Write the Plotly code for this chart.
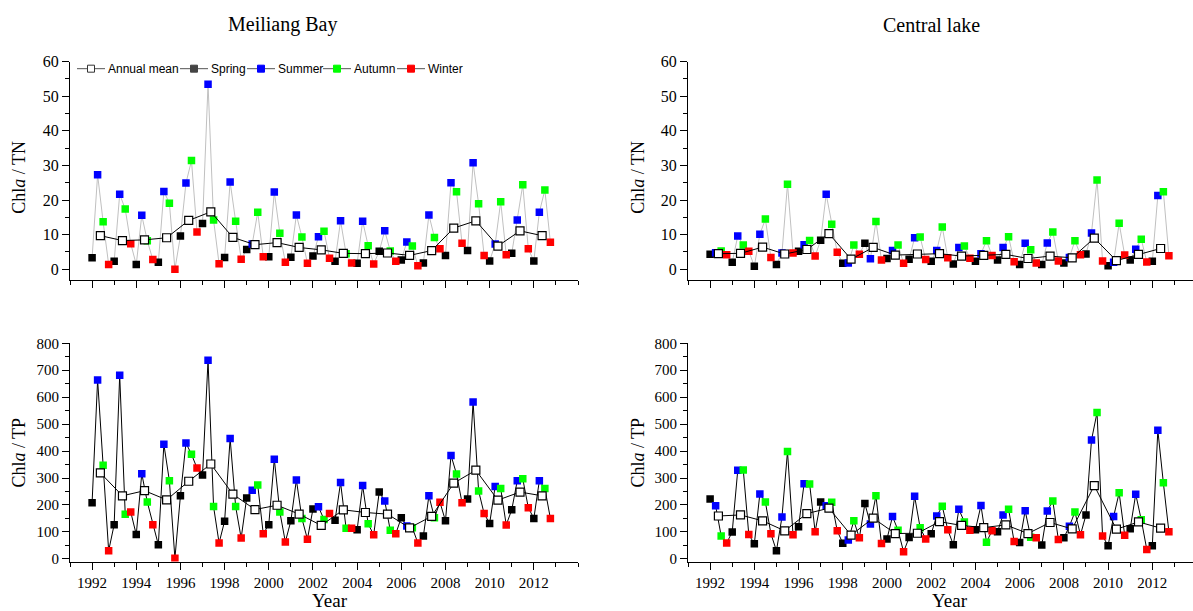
import plotly.graph_objects as go

years = list(range(1992, 2013))
season_names = ["Spring", "Summer", "Autumn", "Winter"]
season_colors = ["#000000", "#0000ff", "#00ff00", "#ff0000"]
season_offsets = [0.0, 0.25, 0.5, 0.75]
mean_offset = 0.375
tick_years = list(range(1992, 2013, 2))

# Meiliang Bay Chla/TN
ml_tn_spring = [3.3, 2.3, 1.35, 2.0, 9.6, 13.2, 3.4, 5.7, 3.6, 3.5, 3.8, 2.3, 1.7, 5.2, 2.7, 1.8, 4.0, 5.4, 2.4, 4.6, 2.4]
ml_tn_summer = [27.3, 21.7, 15.6, 22.5, 24.9, 53.5, 25.2, 7.3, 22.3, 15.7, 9.4, 14.0, 13.9, 11.1, 7.9, 15.7, 25.0, 30.8, 7.3, 14.2, 16.5]
ml_tn_autumn = [13.7, 17.4, 8.2, 19.1, 31.4, 14.2, 13.9, 16.5, 10.4, 9.3, 11.0, 4.5, 6.8, 5.3, 6.7, 9.2, 22.4, 18.9, 19.5, 24.4, 22.9]
ml_tn_winter = [1.4, 7.4, 2.8, 0.0, 10.8, 1.6, 2.9, 3.6, 2.0, 1.7, 3.2, 1.8, 1.5, 2.3, 1.0, 5.9, 7.5, 4.0, 4.2, 5.9, 7.8]
ml_tn_mean = [9.7, 8.3, 8.5, 9.1, 14.1, 16.6, 9.2, 7.1, 7.7, 6.3, 5.6, 4.6, 4.5, 4.7, 4.0, 5.4, 11.9, 14.0, 6.7, 11.1, 9.7]

# Meiliang Bay Chla/TP
ml_tp_spring = [208, 127, 90, 52, 234, 311, 140, 226, 127, 141, 185, 143, 108, 248, 153, 85, 141, 222, 131, 182, 150]
ml_tp_summer = [664, 681, 316, 425, 430, 737, 447, 255, 370, 293, 193, 283, 272, 215, 122, 234, 384, 582, 269, 290, 290]
ml_tp_autumn = [347, 166, 211, 290, 388, 194, 194, 274, 174, 150, 146, 114, 130, 106, 115, 153, 315, 252, 261, 297, 261]
ml_tp_winter = [30, 174, 127, 2, 337, 59, 77, 93, 63, 73, 168, 114, 89, 93, 59, 210, 208, 168, 126, 190, 150]
ml_tp_mean = [319, 234, 253, 219, 288, 352, 240, 183, 199, 166, 124, 182, 172, 166, 115, 158, 281, 329, 218, 248, 234]

# Central lake Chla/TN
cl_tn_spring = [4.3, 2.0, 0.9, 1.4, 5.2, 8.4, 1.7, 7.5, 3.1, 2.9, 2.3, 1.5, 2.3, 2.7, 1.4, 1.4, 1.8, 4.4, 1.0, 2.7, 2.3]
cl_tn_summer = [4.8, 9.6, 10.1, 4.7, 7.1, 21.7, 1.8, 3.0, 5.4, 9.1, 5.4, 6.3, 4.5, 6.3, 7.5, 7.6, 3.4, 10.5, 2.0, 5.8, 21.3]
cl_tn_autumn = [5.3, 7.0, 14.5, 24.6, 8.3, 13.0, 7.0, 13.8, 7.0, 9.3, 12.2, 6.7, 8.2, 9.4, 5.6, 10.8, 8.2, 25.8, 13.3, 8.7, 22.4]
cl_tn_winter = [4.2, 5.2, 3.4, 4.7, 3.8, 4.9, 4.3, 2.7, 1.7, 2.8, 3.3, 3.2, 4.0, 2.2, 1.8, 2.4, 4.2, 2.4, 4.1, 2.1, 3.9]
cl_tn_mean = [4.5, 4.6, 6.4, 4.4, 5.7, 10.3, 2.9, 6.3, 4.1, 4.4, 4.5, 3.8, 4.0, 4.3, 3.1, 3.8, 3.3, 9.0, 2.5, 4.3, 6.0]

# Central lake Chla/TP
cl_tp_spring = [222, 100, 56, 30, 119, 211, 58, 205, 74, 79, 93, 52, 108, 101, 61, 51, 78, 163, 49, 112, 49]
cl_tp_summer = [197, 329, 241, 155, 279, 197, 70, 129, 157, 232, 159, 184, 198, 163, 179, 178, 121, 441, 157, 240, 477]
cl_tp_autumn = [85, 330, 211, 398, 278, 210, 141, 234, 106, 115, 195, 137, 62, 184, 80, 215, 174, 543, 245, 145, 282]
cl_tp_winter = [59, 90, 93, 89, 101, 104, 78, 57, 26, 74, 108, 106, 104, 64, 78, 72, 89, 85, 88, 35, 101]
cl_tp_mean = [159, 163, 141, 104, 168, 188, 88, 151, 94, 95, 138, 124, 116, 126, 94, 135, 111, 272, 110, 137, 114]

panels = [
    ("x", "y", [ml_tn_spring, ml_tn_summer, ml_tn_autumn, ml_tn_winter], ml_tn_mean, "#c0c0c0"),
    ("x2", "y2", [cl_tn_spring, cl_tn_summer, cl_tn_autumn, cl_tn_winter], cl_tn_mean, "#c0c0c0"),
    ("x3", "y3", [ml_tp_spring, ml_tp_summer, ml_tp_autumn, ml_tp_winter], ml_tp_mean, "#000000"),
    ("x4", "y4", [cl_tp_spring, cl_tp_summer, cl_tp_autumn, cl_tp_winter], cl_tp_mean, "#000000"),
]

fig = go.Figure()
MS = 7.5
for xa, ya, seasons, mean, lc in panels:
    sx, sy = [], []
    for i, yr in enumerate(years):
        for k in range(4):
            sx.append(yr + season_offsets[k])
            sy.append(seasons[k][i])
    fig.add_trace(go.Scatter(x=sx, y=sy, mode="lines", line=dict(color=lc, width=1),
                             xaxis=xa, yaxis=ya, showlegend=False, hoverinfo="skip"))
    for k in range(4):
        fig.add_trace(go.Scatter(x=[yr + season_offsets[k] for yr in years], y=seasons[k],
                                 mode="markers",
                                 marker=dict(symbol="square", size=MS, color=season_colors[k],
                                             line=dict(width=0)),
                                 xaxis=xa, yaxis=ya, showlegend=False, name=season_names[k]))
    fig.add_trace(go.Scatter(x=[yr + mean_offset for yr in years], y=mean, mode="lines+markers",
                             line=dict(color="black", width=1),
                             marker=dict(symbol="square", size=MS + 0.5, color="white",
                                         line=dict(color="black", width=1.2)),
                             xaxis=xa, yaxis=ya, showlegend=False, name="Annual mean"))

W, H = 1193, 611
# observed rendering: vertical positions appear as 7.3 + 0.979 * specified
VOFF, VSC = 7.3, 0.979
def px_x(p):
    return p / W
def px_y(p):
    s = (p - VOFF) / VSC
    return (H - s) / H

xl = [px_x(70), px_x(578)]
xr = [px_x(688), 1.0]
yt = [px_y(279), px_y(61)]
yb = [px_y(561), px_y(342.7)]

serif = "Liberation Serif"
sans = "Liberation Sans"
ytickfont_top = dict(family=serif, size=16, color="black")
ytickfont_bot = dict(family=serif, size=15, color="black")
xtickfont = dict(family=serif, size=15, color="black")

def xaxis(domain, rng, anchor, labels):
    return dict(domain=domain, range=rng, anchor=anchor, showline=True, linecolor="black",
                linewidth=1.2, ticks="outside", ticklen=7, tickwidth=1, tickcolor="black",
                tickmode="array", tickvals=tick_years, ticktext=[str(v) for v in tick_years],
                showgrid=False, zeroline=False,
                showticklabels=labels, tickfont=xtickfont,
                minor=dict(ticks="outside", ticklen=4, dtick=1, tick0=1992, tickcolor="black",
                           tickwidth=1, showgrid=False))

def yaxis(domain, rng, anchor, dt, tf):
    return dict(domain=domain, range=rng, anchor=anchor, showline=True, linecolor="black",
                linewidth=1.2, ticks="outside", ticklen=7, tickwidth=1, tickcolor="black",
                tick0=0, dtick=dt, showgrid=False, zeroline=False, tickfont=tf,
                minor=dict(ticks="outside", ticklen=4, dtick=dt / 2, tick0=0, tickcolor="black",
                           tickwidth=1, showgrid=False))

ann = []
def a(text, x, y, size, angle=0, family=serif, xanchor="center"):
    ann.append(dict(text=text, x=px_x(x), y=px_y(y), xref="paper", yref="paper",
                    showarrow=False, textangle=angle, xanchor=xanchor, yanchor="middle",
                    font=dict(family=family, size=size, color="black")))

a("Meiliang Bay", 282, 24, 20)
a("Central lake", 931, 24, 20)
a("Chl<i>a</i> / TN", 19, 177, 18, -90)
a("Chl<i>a</i> / TN", 638, 177, 18, -90)
a("Chl<i>a</i> / TP", 19, 452, 18, -90)
a("Chl<i>a</i> / TP", 638, 452, 18, -90)
a("Year", 330, 600, 19)
a("Year", 950, 600, 19)

# manual legend (symbol line + square + label)
legend_names = ["Annual mean"] + season_names
legend_fill = ["white", "#444444", "#0000ff", "#00ff00", "#ff0000"]
legend_edge = ["#333333", "#444444", "#0000ff", "#00ff00", "#ff0000"]
legend_x0 = [77, 180, 247, 323, 397]
LY = 68
shapes = []
for name, fc, ec, x0 in zip(legend_names, legend_fill, legend_edge, legend_x0):
    shapes.append(dict(type="line", xref="paper", yref="paper", x0=px_x(x0), x1=px_x(x0 + 28),
                       y0=px_y(LY), y1=px_y(LY), line=dict(color="#555555", width=1)))
    shapes.append(dict(type="rect", xref="paper", yref="paper", x0=px_x(x0 + 10.5), x1=px_x(x0 + 17.5),
                       y0=px_y(LY + 3.5), y1=px_y(LY - 3.5), fillcolor=fc,
                       line=dict(color=ec, width=1)))
    a(name, x0 + 28.5, LY, 12, family=sans, xanchor="left")

fig.update_layout(
    width=W, height=H, margin=dict(l=0, r=0, t=0, b=0),
    paper_bgcolor="white", plot_bgcolor="white",
    font=dict(family=serif, color="black"),
    xaxis=xaxis(xl, [1991, 2014], "y", False),
    yaxis=yaxis(yt, [-3, 60], "x", 10, ytickfont_top),
    xaxis2=xaxis(xr, [1991, 2013.84], "y2", False),
    yaxis2=yaxis(yt, [-3, 60], "x2", 10, ytickfont_top),
    xaxis3=xaxis(xl, [1991, 2014], "y3", True),
    yaxis3=yaxis(yb, [-10, 800], "x3", 100, ytickfont_bot),
    xaxis4=xaxis(xr, [1991, 2013.84], "y4", True),
    yaxis4=yaxis(yb, [-10, 800], "x4", 100, ytickfont_bot),
    annotations=ann,
    shapes=shapes,
    showlegend=False,
)

fig.write_html("out.html")
